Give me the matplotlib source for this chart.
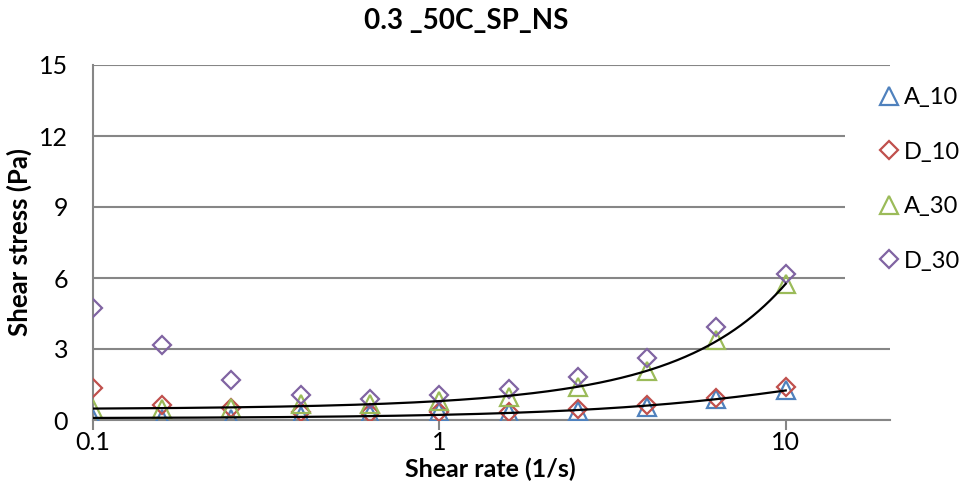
import numpy as np
import matplotlib
matplotlib.use("Agg")
import matplotlib.pyplot as plt
from matplotlib.patches import Rectangle

plt.rcParams['font.family'] = ['Lato', 'DejaVu Sans']

# shear rates (1/s) and measured shear stress (Pa)
shear_rate = [0.1, 0.158, 0.251, 0.398, 0.631, 1.0, 1.585, 2.512, 3.981, 6.31, 10.0]
a_10 = [0.03, 0.03, 0.03, 0.19, 0.25, 0.34, 0.29, 0.40, 0.55, 0.90, 1.25]
d_10 = [1.34, 0.62, 0.52, 0.33, 0.28, 0.35, 0.32, 0.47, 0.63, 0.95, 1.41]
a_30 = [0.47, 0.46, 0.50, 0.68, 0.68, 0.82, 0.99, 1.40, 2.06, 3.36, 5.75]
d_30 = [4.72, 3.17, 1.69, 1.06, 0.87, 1.06, 1.30, 1.83, 2.61, 3.93, 6.18]

x_ticks = [0.1, 1, 10]
x_labels = ["0.1", "1", "10"]
y_ticks = [0, 3, 6, 9, 12, 15]

grey = "#868686"
W, H = 963, 493

fig = plt.figure(figsize=(W / 100, H / 100), dpi=100)
ax = fig.add_axes([93 / W, 1 - 420 / H, (890 - 93) / W, (420 - 65) / H])

series = [
    ("A_10", a_10, "^", "#4F81BD", 13),
    ("D_10", d_10, "D", "#C0504D", 9.5),
    ("A_30", a_30, "^", "#9BBB59", 13),
    ("D_30", d_30, "D", "#8064A2", 9.5),
]
for name, ys, mk, col, ms in series:
    ax.plot(shear_rate, ys, linestyle="none", marker=mk, markersize=ms,
            markerfacecolor="none", markeredgecolor=col, markeredgewidth=1.6,
            label=name, zorder=3)

# 2nd order polynomial trendlines on the ascending runs
xs = np.linspace(shear_rate[0], shear_rate[-1], 400)
for ys in (a_10, a_30):
    coef = np.polyfit(shear_rate, ys, 2)
    ax.plot(xs, np.polyval(coef, xs), color="black", linewidth=1.6, zorder=4)

ax.set_xscale("log")
ax.set_xlim(0.1, 20)
ax.set_ylim(0, 15)
ax.set_xticks(x_ticks)
ax.set_xticklabels(x_labels)
ax.xaxis.set_minor_locator(matplotlib.ticker.NullLocator())
ax.set_yticks(y_ticks)

ax.yaxis.grid(True, color=grey, linewidth=1.5)
ax.set_axisbelow(True)
for side in ("top", "right"):
    ax.spines[side].set_visible(False)
for side in ("left", "bottom"):
    ax.spines[side].set_color(grey)
    ax.spines[side].set_linewidth(1.5)
ax.tick_params(axis="both", colors=grey, labelcolor="black", labelsize=18,
               width=1.5)
ax.tick_params(axis="x", length=7, pad=1)
ax.tick_params(axis="y", length=0, pad=18)

ax.set_xlabel("Shear rate (1/s)", fontsize=18, fontweight="bold")
ax.xaxis.set_label_coords(0.498, -0.105)
ax.set_ylabel("Shear stress (Pa)", fontsize=18.5, fontweight="bold")
ax.yaxis.set_label_coords(-0.077, 0.5)
fig.text(466 / W, 1 - 21 / H, "0.3 _50C_SP_NS", fontsize=20,
         fontweight="bold", ha="center", va="center")

# white box behind the legend hides the grid there
ax.add_patch(Rectangle((845 / W, 1 - 305 / H), 118 / W, 225 / H,
                       transform=fig.transFigure, facecolor="white",
                       edgecolor="none", zorder=1, clip_on=False))
ax.legend(loc="upper left", bbox_to_anchor=(880 / W, 1 - 87 / H),
          bbox_transform=fig.transFigure, fontsize=17, frameon=False,
          handlelength=0.78, handletextpad=0.25, labelspacing=1.42,
          borderpad=0, borderaxespad=0)

fig.savefig("out.png", dpi=100)
